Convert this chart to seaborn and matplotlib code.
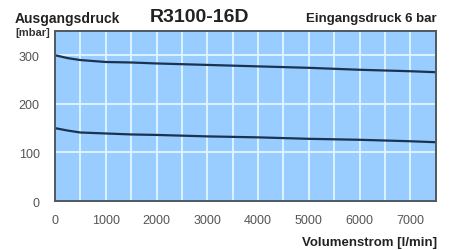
import matplotlib
matplotlib.use("Agg")
import matplotlib.pyplot as plt
import seaborn as sns
import pandas as pd

# flow in l/min and outlet pressure in mbar
flow = [0, 250, 500, 750, 1000, 1500, 2000, 3000, 4000, 5000, 6000, 7000, 7500]
p_high = [300, 294, 290, 288, 286, 285, 283, 280, 277, 274, 270, 267, 265]
p_low = [150, 145, 141, 140, 139, 137, 136, 133, 131, 128, 126, 123, 121]

x_ticks = [0, 1000, 2000, 3000, 4000, 5000, 6000, 7000]
y_ticks = [0, 100, 200, 300]

df = pd.concat([
    pd.DataFrame({"flow": flow, "p": p_high, "curve": "high"}),
    pd.DataFrame({"flow": flow, "p": p_low, "curve": "low"}),
])

sns.set_style("white")
plt.rcParams["font.family"] = ["Liberation Sans", "DejaVu Sans"]

fig = plt.figure(figsize=(4.54, 2.51), dpi=100)
ax = fig.add_axes([0.121, 0.195, 0.839, 0.678])
ax.set_facecolor("#99ccff")

sns.lineplot(data=df, x="flow", y="p", hue="curve", units="curve",
             estimator=None, palette=["#1b3350", "#1b3350"], linewidth=1.6,
             legend=False, ax=ax)

ax.set_xlim(0, 7500)
ax.set_ylim(0, 350)
ax.set_xticks(x_ticks)
ax.set_yticks(y_ticks)
ax.set_xticks(range(500, 7500, 500), minor=True)
ax.grid(which="both", axis="x", color="#e2f6ff", linewidth=1.3)
ax.grid(which="major", axis="y", color="#e2f6ff", linewidth=1.3)
ax.tick_params(axis="both", which="both", length=0, labelsize=9,
               labelcolor="#555555")
ax.tick_params(axis="x", pad=9)
ax.tick_params(axis="y", pad=11)
ax.set_xlabel("")
ax.set_ylabel("")
for s in ax.spines.values():
    s.set_color("#505860")
    s.set_linewidth(1.4)

fig.text(0.033, 0.925, "Ausgangsdruck", fontsize=10, fontweight="bold",
         ha="left", va="center", color="#222222")
fig.text(0.033, 0.868, "[mbar]", fontsize=8, fontweight="bold",
         ha="left", va="center", color="#333333")
fig.text(0.44, 0.93, "R3100-16D", fontsize=14, fontweight="bold",
         ha="center", va="center", color="#222222")
fig.text(0.962, 0.925, "Eingangsdruck 6 bar", fontsize=9.5, fontweight="bold",
         ha="right", va="center", color="#222222")
fig.text(0.962, 0.03, "Volumenstrom [l/min]", fontsize=9.5, fontweight="bold",
         ha="right", va="center", color="#222222")

fig.savefig("out.png", dpi=100)
plt.close(fig)
